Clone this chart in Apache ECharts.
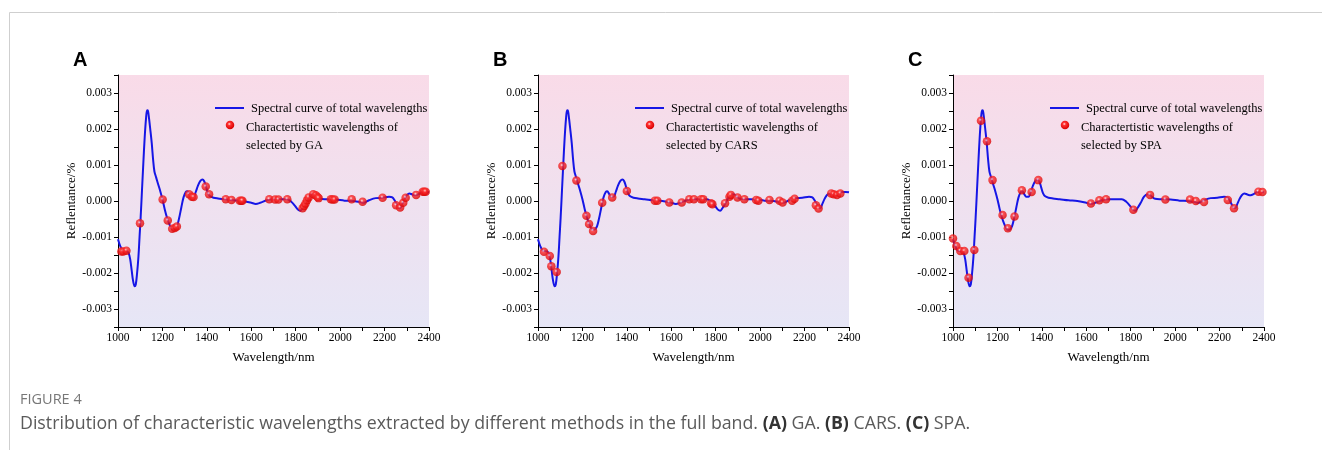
<!DOCTYPE html>
<html><head><meta charset="utf-8">
<script src="https://cdn.jsdelivr.net/npm/echarts@6/dist/echarts.min.js"></script>
<style>html,body{margin:0;padding:0;background:#fff}#c{width:1322px;height:450px}</style>
</head><body><div id="c"></div><script>
// ---- data ----
const curveWl = [1000,1010,1020,1030,1040,1048,1055,1062,1068,1075,1080,1086,1092,1097,1102,1108,1114,1120,1126,1131,1135,1140,1146,1152,1158,1164,1172,1180,1190,1200,1210,1220,1230,1240,1250,1258,1266,1275,1285,1295,1305,1312,1320,1330,1340,1350,1360,1370,1380,1388,1396,1405,1415,1430,1450,1480,1520,1560,1600,1620,1640,1670,1700,1730,1760,1780,1795,1810,1820,1830,1845,1860,1875,1885,1895,1910,1940,1980,2020,2060,2090,2100,2110,2130,2160,2190,2220,2235,2245,2255,2265,2272,2280,2290,2300,2312,2325,2340,2355,2370,2385,2400];
const curveVal = [-0.00106,-0.00125,-0.00137,-0.00139,-0.00140,-0.00145,-0.00162,-0.00195,-0.00222,-0.00237,-0.00232,-0.00200,-0.00155,-0.00100,-0.00045,0.00030,0.00105,0.00175,0.00228,0.00252,0.00250,0.00228,0.00195,0.00160,0.00115,0.00082,0.00065,0.00048,0.00028,0.00005,-0.00022,-0.00045,-0.00063,-0.00076,-0.00080,-0.00078,-0.00070,-0.00048,-0.00018,0.00010,0.00025,0.00027,0.00020,0.00012,0.00012,0.00025,0.00043,0.00055,0.00060,0.00055,0.00040,0.00022,0.00013,0.00009,0.00007,0.00005,0.00002,0.00000,-0.00005,-0.00008,-0.00005,0.00002,0.00005,0.00005,0.00005,-0.00002,-0.00012,-0.00024,-0.00027,-0.00020,-0.00005,0.00012,0.00019,0.00018,0.00012,0.00006,0.00005,0.00004,0.00001,0.00000,-0.00003,-0.00005,-0.00004,0.00002,0.00008,0.00009,0.00012,0.00010,0.00002,-0.00010,-0.00020,-0.00019,-0.00008,0.00006,0.00016,0.00021,0.00018,0.00016,0.00020,0.00025,0.00025,0.00024];

const gaWl  = [1015,1024,1038,1099,1201,1224,1244,1256,1265,1320,1332,1340,1395,1410,1485,1511,1548,1555,1560,1681,1707,1722,1762,1831,1838,1844,1851,1858,1879,1890,1898,1903,1958,1966,1975,2052,2101,2191,2252,2270,2284,2295,2342,2372,2378,2385];
const gaVal = [-0.00140,-0.00140,-0.00138,-0.00062,0.00004,-0.00054,-0.00077,-0.00075,-0.00071,0.00019,0.00012,0.00011,0.00040,0.00019,0.00005,0.00003,0.00001,0.00001,0.00001,0.00005,0.00004,0.00004,0.00005,-0.00020,-0.00014,-0.00007,0.00002,0.00010,0.00019,0.00016,0.00011,0.00008,0.00005,0.00004,0.00004,0.00005,-0.00002,0.00009,-0.00012,-0.00018,-0.00005,0.00009,0.00017,0.00026,0.00026,0.00026];

const carsWl  = [1027,1053,1060,1084,1110,1173,1218,1230,1248,1289,1334,1400,1526,1537,1591,1647,1681,1702,1734,1744,1779,1785,1842,1862,1868,1898,1929,1982,1992,2042,2087,2101,2144,2155,2251,2263,2320,2331,2346,2361];
const carsVal = [-0.00141,-0.00153,-0.00181,-0.00197,0.00097,0.00057,-0.00041,-0.00064,-0.00083,-0.00005,0.00010,0.00028,0.00001,0.00001,-0.00004,-0.00004,0.00005,0.00005,0.00005,0.00005,-0.00006,-0.00009,-0.00006,0.00012,0.00017,0.00010,0.00005,0.00003,0.00001,0.00003,0.00001,-0.00004,0.00001,0.00006,-0.00012,-0.00021,0.00021,0.00019,0.00017,0.00021];

const spaWl  = [1000,1015,1033,1051,1070,1096,1126,1153,1178,1223,1247,1277,1310,1354,1384,1621,1659,1689,1812,1887,1956,2067,2093,2130,2237,2265,2375,2393];
const spaVal = [-0.00104,-0.00125,-0.00139,-0.00139,-0.00213,-0.00136,0.00223,0.00166,0.00058,-0.00039,-0.00076,-0.00043,0.00030,0.00025,0.00058,-0.00007,0.00002,0.00005,-0.00024,0.00017,0.00004,0.00004,0.00000,-0.00003,0.00003,-0.00020,0.00026,0.00025];

const xTickLabels = [1000,1200,1400,1600,1800,2000,2200,2400];
const yTickLabels = ['-0.003','-0.002','-0.001','0.000','0.001','0.002','0.003'];
const panelLetters = ['A','B','C'];
const methods = ['GA','CARS','SPA'];
const lineName = 'Spectral curve of total wavelengths';
const xName = 'Wavelength/nm';
const yName = 'Reflentance/%';
const captionHead = 'FIGURE 4';

// ---- build ----
const selected = [[gaWl,gaVal],[carsWl,carsVal],[spaWl,spaVal]];
const gridLefts = [118, 538, 953];
const GT = 75, GH = 252, GW = 311;
const serif = '"Liberation Serif","Times New Roman",serif';

const grids = [], xAxes = [], yAxes = [], series = [], titles = [], graphics = [];
const bg = new echarts.graphic.LinearGradient(0,0,0,1,[{offset:0,color:'#f9dbe8'},{offset:1,color:'#e6e6f6'}]);
const ball = () => ({type: 'radial', x: 0.42, y: 0.38, r: 0.62,
  colorStops: [{offset: 0, color: '#ffe8e8'}, {offset: 0.3, color: '#ff3030'}, {offset: 1, color: '#d80000'}]});

gridLefts.forEach((L, i) => {
  grids.push({left: L, top: GT, width: GW, height: GH, show: true, backgroundColor: bg, borderWidth: 0, containLabel: false});
  xAxes.push({
    gridIndex: i, type: 'value', min: 1000, max: 2400, interval: 100,
    axisLine: {show: true, onZero: false, lineStyle: {color: '#000', width: 1}},
    axisTick: {show: true, length: 4, lineStyle: {color: '#000'}},
    splitLine: {show: false},
    axisLabel: {margin: 5, color: '#000', fontFamily: serif, fontSize: 11.5,
      formatter: v => xTickLabels.indexOf(Math.round(v)) >= 0 ? String(Math.round(v)) : ''},
    name: xName, nameLocation: 'middle', nameGap: 24,
    nameTextStyle: {color: '#000', fontFamily: serif, fontSize: 13}
  });
  yAxes.push({
    gridIndex: i, type: 'value', min: -0.0035, max: 0.0035, interval: 0.0005,
    axisLine: {show: true, onZero: false, lineStyle: {color: '#000', width: 1}},
    axisTick: {show: true, length: 4, lineStyle: {color: '#000'}},
    splitLine: {show: false},
    axisLabel: {margin: 6, color: '#000', fontFamily: serif, fontSize: 11.5,
      formatter: v => { const k = Math.round(v * 10000); if (k % 10 !== 0) return ''; let s = (k/10000).toFixed(3); if (s === '-0.000') s = '0.000'; return yTickLabels.indexOf(s) >= 0 ? s : ''; }},
    name: yName, nameLocation: 'middle', nameGap: 40, nameRotate: 90,
    nameTextStyle: {color: '#000', fontFamily: serif, fontSize: 13}
  });
  series.push({
    type: 'line', xAxisIndex: i, yAxisIndex: i, name: lineName,
    data: curveWl.map((w, k) => [w, curveVal[k]]),
    smooth: 0.35, showSymbol: false, symbol: 'none',
    lineStyle: {color: '#1616e6', width: 2}, z: 2, animation: false
  });
  const [sw, sv] = selected[i];
  series.push({
    type: 'scatter', xAxisIndex: i, yAxisIndex: i,
    name: 'Charactertistic wavelengths of selected by ' + methods[i],
    data: sw.map((w, k) => [w, sv[k]]),
    symbol: 'circle', symbolSize: 8.5,
    itemStyle: {color: ball(), borderWidth: 0},
    z: 3, animation: false
  });
  titles.push({text: panelLetters[i], left: L - 50, top: 45,
    textStyle: {fontFamily: 'Liberation Sans, Arial, sans-serif', fontWeight: 'bold', fontSize: 20, color: '#000'}});
  // legend drawn as graphic
  graphics.push({type: 'line', shape: {x1: L + 97, y1: 108, x2: L + 126, y2: 108}, style: {stroke: '#1616e6', lineWidth: 2}});
  graphics.push({type: 'circle', shape: {cx: L + 112, cy: 125, r: 4.25}, style: {fill: ball()}});
  const ts = {fill: '#000', font: '12.5px ' + serif, verticalAlign: 'middle'};
  graphics.push({type: 'text', x: L + 133, y: 109, style: Object.assign({text: lineName}, ts)});
  graphics.push({type: 'text', x: L + 128, y: 128, style: Object.assign({text: 'Charactertistic wavelengths of'}, ts)});
  graphics.push({type: 'text', x: L + 128, y: 146, style: Object.assign({text: 'selected by ' + methods[i]}, ts)});
});

// frame and caption
graphics.push({type: 'polyline', shape: {points: [[9.5, 450], [9.5, 12.5], [1322, 12.5]]}, style: {stroke: '#cfcfcf', lineWidth: 1, fill: null}});
graphics.push({type: 'text', x: 20, y: 400, style: {text: captionHead, fill: '#777777', font: '14.5px "Open Sans", sans-serif', verticalAlign: 'middle'}});
graphics.push({type: 'text', x: 20, y: 424, style: {
  text: 'Distribution of characteristic wavelengths extracted by different methods in the full band. {b|(A)} GA. {b|(B)} CARS. {b|(C)} SPA.',
  fill: '#5a5a5a', font: '17.75px "Open Sans", sans-serif', verticalAlign: 'middle',
  rich: {b: {fill: '#333333', font: 'bold 17.75px "Open Sans", sans-serif'}}}});

const chart = echarts.init(document.getElementById('c'), null, {renderer: 'canvas'});
chart.setOption({
  animation: false,
  title: titles,
  grid: grids, xAxis: xAxes, yAxis: yAxes, series: series,
  graphic: graphics
});
</script></body></html>
